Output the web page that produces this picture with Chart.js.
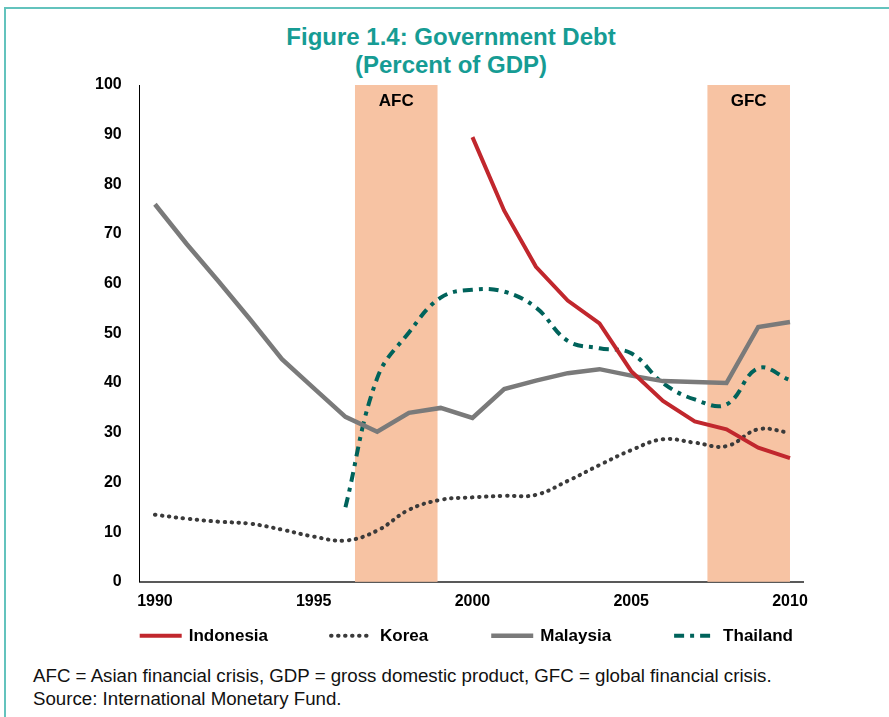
<!DOCTYPE html>
<html>
<head>
<meta charset="utf-8">
<script src="https://cdn.jsdelivr.net/npm/chart.js@4/dist/chart.umd.min.js"></script>
<style>
    html, body { margin: 0; padding: 0; background: #fff; overflow: hidden; }
    body { width: 889px; height: 717px; position: relative; font-family: "Liberation Sans", Arial, sans-serif; }
    .frame { position: absolute; left: 4px; top: 7px; width: 1000px; height: 800px;
             border-top: 2px solid #63c3bd; border-left: 2px solid #63c3bd; }
    .title { position: absolute; left: 251px; width: 400px; top: 23px; text-align: center;
             font-size: 24px; line-height: 28px; font-weight: bold; color: #169c94; }
    .chart-box { position: absolute; left: 0; top: 0; width: 889px; height: 660px; }
    .note { position: absolute; left: 33px; top: 664px; font-size: 18.7px; line-height: 23px; color: #111; }
</style>
</head>
<body>
<div class="frame"></div>
<div class="title">Figure 1.4: Government Debt<br>(Percent of GDP)</div>
<div class="chart-box"><canvas id="debtChart"></canvas></div>
<div class="note">
    AFC = Asian financial crisis, GDP = gross domestic product, GFC = global financial crisis.<br>
    Source: International Monetary Fund.
</div>

<script>
// Figure 1.4: Government Debt (Percent of GDP)

const years = [1990, 1991, 1992, 1993, 1994, 1995, 1996, 1997, 1998, 1999, 2000,
               2001, 2002, 2003, 2004, 2005, 2006, 2007, 2008, 2009, 2010];
const xTicks = [1990, 1995, 2000, 2005, 2010];

const indonesia = [null, null, null, null, null, null, null, null, null, null, 89.5,
                   74.7, 63.4, 56.6, 52.0, 42.4, 36.4, 32.3, 30.7, 27.0, 24.9];
const korea = [13.5, 12.7, 12.1, 11.7, 10.5, 9.1, 8.3, 10.3, 14.5, 16.5, 17.0,
               17.3, 17.5, 20.3, 23.5, 26.5, 28.7, 28.0, 27.3, 30.7, 30.0];
const malaysia = [76.0, 68.0, 60.5, 52.8, 44.8, 39.0, 33.2, 30.2, 34.0, 35.0, 33.0,
                  38.8, 40.5, 42.0, 42.8, 41.5, 40.4, 40.2, 40.0, 51.3, 52.3];
const thailand = [null, null, null, null, null, null, 15.0, 41.0, 50.2, 57.2, 58.8,
                  58.4, 55.2, 48.5, 47.0, 46.0, 40.0, 36.7, 35.7, 43.0, 40.6];

// crisis periods (start, end on the year axis)
const afcBand = [1996.3, 1998.9];
const gfcBand = [2007.4, 2010.0];

const FONT = "'Liberation Sans', Arial, sans-serif";

const crisisBands = {
    id: "crisisBands",
    beforeDatasetsDraw(chart) {
        const { ctx, chartArea, scales } = chart;
        const bands = [
            { range: afcBand, label: "AFC" },
            { range: gfcBand, label: "GFC" }
        ];
        ctx.save();
        bands.forEach(b => {
            const x1 = scales.x.getPixelForValue(b.range[0]);
            const x2 = scales.x.getPixelForValue(b.range[1]);
            ctx.fillStyle = "#f7c3a3";
            ctx.fillRect(x1, chartArea.top, x2 - x1, chartArea.bottom - chartArea.top);
            ctx.fillStyle = "#000";
            ctx.font = "bold 17px " + FONT;
            ctx.textAlign = "center";
            ctx.textBaseline = "middle";
            ctx.fillText(b.label, (x1 + x2) / 2, chartArea.top + 16);
        });
        ctx.restore();
    }
};

// legend with the real line styles, spread across the plot width
const lineLegend = {
    id: "lineLegend",
    afterDraw(chart) {
        const { ctx, chartArea } = chart;
        const sets = chart.data.datasets;
        const lineLen = 42, gapText = 7;
        ctx.save();
        ctx.font = "bold 17px " + FONT;
        const widths = sets.map(ds => lineLen + gapText + ctx.measureText(ds.label).width);
        const total = widths.reduce((a, b) => a + b, 0);
        const span = chartArea.right - chartArea.left - 10;
        const gap = (span - total) / (sets.length - 1);
        const y = chartArea.bottom + 54;
        let x = chartArea.left;
        sets.forEach((ds, i) => {
            ctx.beginPath();
            ctx.strokeStyle = ds.borderColor;
            ctx.lineWidth = ds.borderWidth;
            ctx.lineCap = ds.borderCapStyle || "butt";
            ctx.setLineDash(ds.borderDash || []);
            ctx.moveTo(x, y);
            ctx.lineTo(x + lineLen, y);
            ctx.stroke();
            ctx.setLineDash([]);
            ctx.fillStyle = "#000";
            ctx.textAlign = "left";
            ctx.textBaseline = "middle";
            ctx.fillText(ds.label, x + lineLen + gapText, y + 1);
            x += widths[i] + gap;
        });
        ctx.restore();
    }
};

new Chart(document.getElementById("debtChart"), {
    type: "line",
    data: {
        labels: years,
        datasets: [
            {
                label: "Indonesia",
                data: indonesia,
                borderColor: "#c1272d",
                backgroundColor: "#c1272d",
                borderWidth: 4,
                tension: 0
            },
            {
                label: "Korea",
                data: korea,
                borderColor: "#3a3a3a",
                backgroundColor: "#3a3a3a",
                borderWidth: 4,
                borderDash: [0.5, 6.5],
                borderCapStyle: "round",
                tension: 0.4
            },
            {
                label: "Malaysia",
                data: malaysia,
                borderColor: "#7a7a7a",
                backgroundColor: "#7a7a7a",
                borderWidth: 4.5,
                tension: 0
            },
            {
                label: "Thailand",
                data: thailand,
                borderColor: "#00635b",
                backgroundColor: "#00635b",
                borderWidth: 4,
                borderDash: [10, 6, 4, 6],
                tension: 0.4
            }
        ]
    },
    options: {
        responsive: true,
        maintainAspectRatio: false,
        animation: false,
        layout: { padding: { left: 77, right: 86, top: 85, bottom: 39 } },
        elements: { point: { radius: 0, hoverRadius: 0 } },
        scales: {
            x: {
                type: "linear",
                min: 1989.52,
                max: 2010.41,
                afterBuildTicks: axis => { axis.ticks = xTicks.map(v => ({ value: v })); },
                grid: { display: false, drawTicks: false },
                border: { display: true, color: "#595959", width: 2 },
                ticks: {
                    color: "#000",
                    padding: 10,
                    maxRotation: 0,
                    font: { family: FONT, size: 16, weight: "bold" },
                    callback: v => String(v)
                }
            },
            y: {
                min: 0,
                max: 100,
                grid: { display: false, drawTicks: false },
                border: { display: true, color: "#000", width: 1 },
                ticks: {
                    stepSize: 10,
                    color: "#000",
                    padding: 18,
                    font: { family: FONT, size: 16, weight: "bold" }
                }
            }
        },
        plugins: {
            title: { display: false },
            legend: { display: false },
            tooltip: { enabled: false }
        }
    },
    plugins: [crisisBands, lineLegend]
});
</script>
</body>
</html>
